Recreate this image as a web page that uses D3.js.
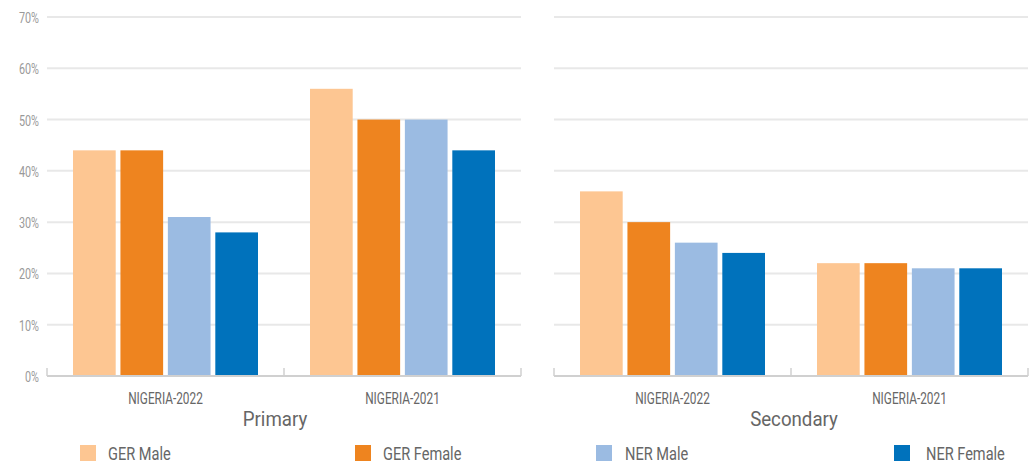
<!DOCTYPE html>
<html>
<head>
<meta charset="utf-8">
<script src="https://cdn.jsdelivr.net/npm/d3@7"></script>
<style>
  body { margin: 0; background: #fff; }
  svg text { font-family: "Roboto", "Liberation Sans", sans-serif; }
</style>
</head>
<body>
<svg id="chart" width="1035" height="463"></svg>
<script>
// data
var countries = ["NIGERIA-2022", "NIGERIA-2021"];
var series = ["GER Male", "GER Female", "NER Male", "NER Female"];
var colors = ["#fdc692", "#ee841f", "#9bbbe2", "#0072bc"];
var primaryValues = [[44, 44, 31, 28], [56, 50, 50, 44]];
var secondaryValues = [[36, 30, 26, 24], [22, 22, 21, 21]];
var yTicks = [0, 10, 20, 30, 40, 50, 60, 70];

var svg = d3.select("#chart");

//shared y scale
var y = d3.scaleLinear().domain([0, 70]).range([376, 17]);

var color = d3.scaleOrdinal().domain(series).range(colors);

// text squeezed horizontally, to look like a condensed face
function narrowText(parent, x, y, sx, txt) {
  return parent.append("text")
    .attr("transform", "translate(" + x + "," + y + ") scale(" + sx + ",1)")
    .text(txt);
}

function drawPanel(x0, x1, values, title, titleX, showLabels) {
  var g = svg.append("g");

  // grid lines
  g.selectAll("line.grid")
    .data(yTicks.slice(1))
    .enter().append("line")
      .attr("x1", x0).attr("x2", x1)
      .attr("y1", function(d) { return y(d); })
      .attr("y2", function(d) { return y(d); })
      .attr("stroke", "#e8e8e8")
      .attr("stroke-width", 2);

  if (showLabels) {
    yTicks.forEach(function(d) {
      narrowText(g, 39, y(d) + 6, 0.72, d + "%")
        .attr("text-anchor", "end")
        .attr("fill", "#999")
        .attr("font-size", 15);
    });
  }

  var x = d3.scaleBand().domain(countries).range([x0, x1]);
  var bw = x.bandwidth();
  var xs = d3.scaleBand().domain(series).range([26, bw - 26]).paddingInner(0.1);

  // bars
  countries.forEach(function(c, i) {
    g.selectAll(null)
      .data(values[i])
      .enter().append("rect")
        .attr("x", function(d, j) { return x(c) + xs(series[j]); })
        .attr("y", function(d) { return y(d); })
        .attr("width", xs.bandwidth())
        .attr("height", function(d) { return y(0) - y(d); })
        .attr("fill", function(d, j) { return color(series[j]); });
  });

  // baseline with ticks
  g.append("line")
    .attr("x1", x0).attr("x2", x1)
    .attr("y1", y(0)).attr("y2", y(0))
    .attr("stroke", "#d0d0d0").attr("stroke-width", 2);
  var tickXs = [x0].concat(countries.map(function(c) { return x(c) + bw; }));
  g.selectAll("line.tick")
    .data(tickXs)
    .enter().append("line")
      .attr("x1", function(d) { return d; })
      .attr("x2", function(d) { return d; })
      .attr("y1", y(0) - 8).attr("y2", y(0))
      .attr("stroke", "#d0d0d0").attr("stroke-width", 1.5);

  // category labels
  countries.forEach(function(c) {
    narrowText(g, x(c) + bw / 2, 404, 0.74, c)
      .attr("text-anchor", "middle")
      .attr("fill", "#666")
      .attr("font-size", 16);
  });

  narrowText(g, titleX, 426, 0.89, title)
    .attr("text-anchor", "middle")
    .attr("fill", "#666")
    .attr("font-size", 21);
}

drawPanel(47, 521, primaryValues, "Primary", 275, true);
drawPanel(554, 1028, secondaryValues, "Secondary", 794, false);

// legend
var legendBoxX = [80, 355, 596, 894];
var legendTextX = [108, 383, 625, 926];
var legend = svg.append("g");
series.forEach(function(s, i) {
  legend.append("rect")
    .attr("x", legendBoxX[i]).attr("y", 445)
    .attr("width", 16).attr("height", 16)
    .attr("fill", color(s));
  narrowText(legend, legendTextX[i], 460, 0.81, s)
    .attr("fill", "#666")
    .attr("font-size", 18);
});
</script>
</body>
</html>
